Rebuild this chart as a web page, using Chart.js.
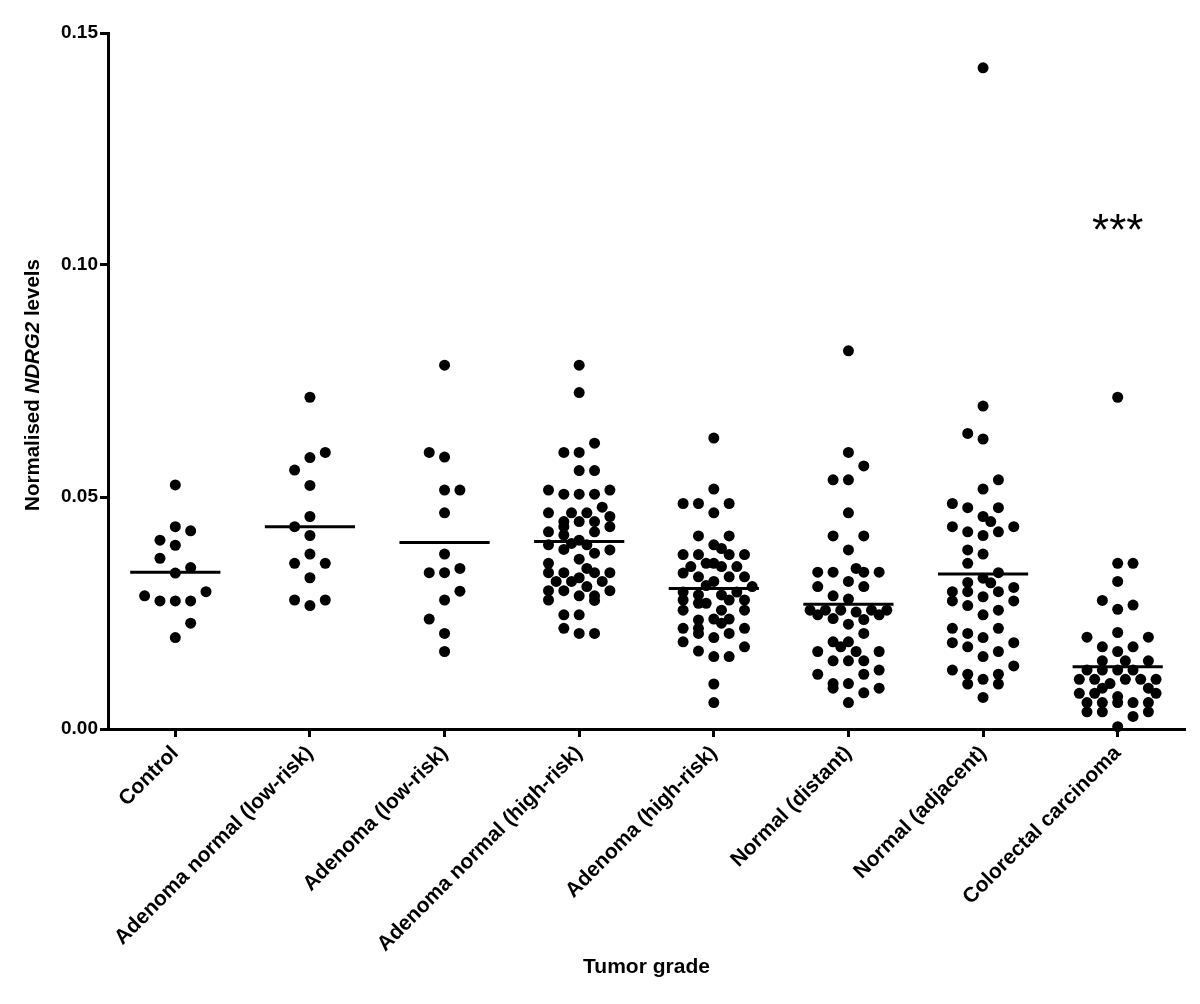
<!DOCTYPE html>
<html>
<head>
<meta charset="utf-8">
<script src="https://cdn.jsdelivr.net/npm/chart.js@4.4.0/dist/chart.umd.min.js"></script>
<style>
  html, body { margin: 0; padding: 0; background: #fff; }
  #chart { display: block; }
</style>
</head>
<body>
<canvas id="chart" width="1200" height="1004"></canvas>
<script>
// groups along the x axis
var categories = ['Control', 'Adenoma normal (low-risk)', 'Adenoma (low-risk)', 'Adenoma normal (high-risk)',
    'Adenoma (high-risk)', 'Normal (distant)', 'Normal (adjacent)', 'Colorectal carcinoma'];
var yTicks = [0, 0.05, 0.10, 0.15];
var medians = [0.0338, 0.0436, 0.0402, 0.0404, 0.0303, 0.0269, 0.0334, 0.0134];
var starLabel = '***';
var starValue = 0.109;   // sits above colorectal carcinoma

// each point: [value, column in the scatter spread]
var control = [[0.0526,0],[0.0436,0],[0.0427,1],[0.0407,-1],[0.0396,0],[0.0368,-1],[0.0348,1],[0.0336,0],
    [0.0296,2],[0.0287,-2],[0.0276,-1],[0.0276,0],[0.0276,1],[0.0228,1],[0.0197,0]];
var adNormLow = [[0.0715,0],[0.0596,1],[0.0585,0],[0.0558,-1],[0.0525,0],[0.0458,0],[0.0436,-1],[0.0417,0],
    [0.0377,0],[0.0357,-1],[0.0357,1],[0.0326,0],[0.0278,-1],[0.0278,1],[0.0266,0]];
var adLow = [[0.0784,0],[0.0596,-1],[0.0586,0],[0.0515,0],[0.0515,1],[0.0466,0],[0.0377,0],[0.0337,-1],
    [0.0337,0],[0.0346,1],[0.0297,1],[0.0278,0],[0.0237,-1],[0.0206,0],[0.0167,0]];
var adNormHigh = [[0.0784,0],[0.0725,0],[0.0616,1],[0.0596,-1],[0.0596,0],[0.0557,0],[0.0557,1],
    [0.0515,-2],[0.0506,-1],[0.0506,0],[0.0506,1],[0.0515,2],
    [0.0466,-2],[0.0466,-0.5],[0.0466,0.5],[0.0478,1.5],[0.0458,2],
    [0.0447,-1],[0.0447,0],[0.0447,1],[0.0436,-1],[0.0436,2],[0.0425,-2],[0.0425,1],
    [0.0418,-1],[0.0407,0],[0.0397,-2],[0.0387,-1],[0.0400,-0.5],[0.0397,0.5],
    [0.0379,1],[0.0386,2],[0.0366,0],[0.0357,-2],[0.0346,0.5],
    [0.0337,-2],[0.0337,-1],[0.0337,1],[0.0337,2],
    [0.0326,0],[0.0318,-1.5],[0.0318,-0.5],[0.0318,1.5],[0.0307,0.5],
    [0.0298,-2],[0.0298,-1],[0.0298,2],[0.0287,0],[0.0287,1],[0.0278,-2],[0.0277,1],
    [0.0246,-1],[0.0246,0],[0.0217,-1],[0.0206,0],[0.0206,1]];
var adHigh = [[0.0627,0],[0.0517,0],[0.0486,-2],[0.0486,-1],[0.0486,1],[0.0466,0],
    [0.0416,-1],[0.0416,1],[0.0397,0],[0.0389,0.5],
    [0.0376,-2],[0.0376,-1],[0.0376,1],[0.0376,2],
    [0.0350,-1.5],[0.0357,-0.5],[0.0357,0],[0.0350,0.5],[0.0350,1.5],
    [0.0336,-2],[0.0328,-1],[0.0328,1],[0.0328,2],
    [0.0318,0],[0.0309,-0.5],[0.0307,2.5],
    [0.0295,-2],[0.0295,1.5],[0.0289,-1],[0.0289,0.5],
    [0.0278,-2],[0.0271,-0.5],[0.0278,1],[0.0278,2],[0.0271,-1],
    [0.0256,-2],[0.0256,0.5],[0.0256,2],
    [0.0235,-1],[0.0237,0],[0.0237,1],[0.0228,0.5],
    [0.0217,-2],[0.0217,-1],[0.0217,2],[0.0206,-1],[0.0206,1],[0.0197,0],
    [0.0188,-2],[0.0177,2],[0.0168,-1],[0.0156,0],[0.0156,1],[0.0097,0],[0.0057,0]];
var normDistant = [[0.0815,0],[0.0596,0],[0.0567,1],[0.0537,-1],[0.0537,0],[0.0466,0],[0.0416,-1],[0.0416,1],[0.0386,0],
    [0.0338,-2],[0.0338,-1],[0.0346,0.5],[0.0338,1],[0.0338,2],
    [0.0318,0],[0.0307,-2],[0.0307,1],[0.0287,-1],[0.0280,0],
    [0.0256,-2.5],[0.0256,-1.5],[0.0256,-0.5],[0.0252,0.5],[0.0256,1.5],[0.0256,2.5],
    [0.0246,-2],[0.0246,2],[0.0238,-1],[0.0236,1],[0.0226,0],
    [0.0206,1],[0.0188,-1],[0.0188,0],[0.0177,-0.5],
    [0.0167,-2],[0.0167,0.5],[0.0167,2],[0.0147,-1],[0.0147,0],[0.0147,1],
    [0.0118,-2],[0.0118,1],[0.0127,2],
    [0.0098,-1],[0.0088,-1],[0.0098,0],[0.0078,1],[0.0088,2],[0.0057,0]];
var normAdjacent = [[0.1425,0],[0.0696,0],[0.0637,-1],[0.0625,0],[0.0537,1],[0.0517,0],
    [0.0486,-2],[0.0477,-1],[0.0477,1],[0.0458,0],[0.0447,0.5],
    [0.0436,-2],[0.0436,2],[0.0425,-1],[0.0425,1],[0.0417,0],
    [0.0386,-1],[0.0377,0],[0.0357,-1],[0.0337,1],
    [0.0325,0],[0.0315,0.5],[0.0316,-1],[0.0305,2],
    [0.0296,-2],[0.0296,-1],[0.0296,1],[0.0285,0],
    [0.0276,-2],[0.0276,2],[0.0266,-1],[0.0256,1],[0.0246,0],
    [0.0217,-2],[0.0217,1],[0.0206,-1],[0.0197,0],[0.0186,-2],[0.0186,2],[0.0177,-1],[0.0167,1],[0.0156,0],
    [0.0127,-2],[0.0136,2],[0.0118,-1],[0.0118,1],[0.0097,-1],[0.0107,0],[0.0097,1],[0.0068,0]];
var carcinoma = [[0.0715,0],[0.0357,0],[0.0357,1],[0.0318,0],[0.0277,-1],[0.0258,0],[0.0267,1],
    [0.0208,0],[0.0198,-2],[0.0198,2],[0.0177,-1],[0.0177,1],[0.0167,0],
    [0.0147,-1],[0.0147,0.5],[0.0147,2],
    [0.0127,-2],[0.0127,-1],[0.0127,0],[0.0127,1],
    [0.0107,-2.5],[0.0107,-1.5],[0.0107,0.5],[0.0107,1.5],[0.0107,2.5],
    [0.0098,-0.5],[0.0088,-1],[0.0088,2],
    [0.0077,-2.5],[0.0077,-1.5],[0.0077,2.5],[0.0070,0],
    [0.0057,-2],[0.0057,-1],[0.0057,0],[0.0057,1],[0.0057,2],
    [0.0037,-2],[0.0037,-1],[0.0037,2],[0.0027,1],[0.0005,0]];

var groups = [control, adNormLow, adLow, adNormHigh, adHigh, normDistant, normAdjacent, carcinoma];

var colStep = 0.114;      // spread between columns, in category units
var medianHalf = 0.335;   // half length of the median bar
var fontFam = '"Liberation Sans", Arial, sans-serif';

var points = [];
groups.forEach(function(g, i){
    g.forEach(function(p){
        points.push({x: i + p[1] * colStep, y: p[0]});
    });
});

var medianLine = [];
medians.forEach(function(m, i){
    medianLine.push({x: i - medianHalf, y: m});
    medianLine.push({x: i + medianHalf, y: m});
    medianLine.push({x: i + 0.5, y: null});
});

// y title with italic gene name, plus the significance stars
var extraText = {
    id: 'extraText',
    afterDraw: function(chart){
        var ctx = chart.ctx;
        var area = chart.chartArea;
        var parts = [['Normalised ', 'bold'], ['NDRG2', 'italic bold'], [' levels', 'bold']];
        ctx.save();
        ctx.fillStyle = '#000';
        ctx.textBaseline = 'middle';
        ctx.textAlign = 'left';
        var total = 0;
        parts.forEach(function(p){
            ctx.font = p[1] + ' 20.5px ' + fontFam;
            total += ctx.measureText(p[0]).width;
        });
        ctx.translate(33, (area.top + area.bottom) / 2 + 4);
        ctx.rotate(-Math.PI / 2);
        var x = -total / 2;
        parts.forEach(function(p){
            ctx.font = p[1] + ' 20.5px ' + fontFam;
            ctx.fillText(p[0], x, 0);
            x += ctx.measureText(p[0]).width;
        });
        ctx.restore();

        ctx.save();
        ctx.fillStyle = '#000';
        ctx.font = '44px ' + fontFam;
        ctx.textAlign = 'center';
        ctx.textBaseline = 'middle';
        ctx.fillText(starLabel, chart.scales.x.getPixelForValue(categories.length - 1),
            chart.scales.y.getPixelForValue(starValue) + 10);
        ctx.restore();
    }
};

var chart = new Chart(document.getElementById('chart'), {
    type: 'scatter',
    data: {
        datasets: [
            {
                data: points,
                backgroundColor: '#000',
                borderWidth: 0,
                pointRadius: 5.5,
                pointHoverRadius: 5.5,
                clip: false
            },
            {
                data: medianLine,
                showLine: true,
                spanGaps: false,
                borderColor: '#000',
                borderWidth: 3,
                pointRadius: 0,
                clip: false
            }
        ]
    },
    options: {
        responsive: false,
        animation: false,
        devicePixelRatio: 1,
        layout: { padding: { top: 33, right: 15, left: 0, bottom: 0 } },
        plugins: { legend: { display: false }, tooltip: { enabled: false } },
        scales: {
            x: {
                type: 'linear',
                min: -0.5,
                max: categories.length - 0.5,
                afterBuildTicks: function(s){ s.ticks = categories.map(function(c, i){ return {value: i}; }); },
                afterFit: function(s){ s.height = 275; },
                grid: { drawOnChartArea: false, tickLength: 8, tickWidth: 3, tickColor: '#000' },
                border: { display: true, width: 3, color: '#000' },
                ticks: {
                    autoSkip: false,
                    minRotation: 45,
                    maxRotation: 45,
                    padding: 4,
                    color: '#000',
                    font: { family: fontFam, size: 21, weight: 'bold' },
                    callback: function(v){ return categories[v]; }
                },
                title: {
                    display: true,
                    text: 'Tumor grade',
                    color: '#000',
                    font: { family: fontFam, size: 21, weight: 'bold' },
                    padding: { top: 0, bottom: 24 }
                }
            },
            y: {
                min: 0,
                max: 0.15,
                afterBuildTicks: function(s){ s.ticks = yTicks.map(function(v){ return {value: v}; }); },
                afterFit: function(s){ s.width = 108; },
                grid: { drawOnChartArea: false, tickLength: 8, tickWidth: 3, tickColor: '#000' },
                border: { display: true, width: 3, color: '#000' },
                ticks: {
                    padding: 2,
                    color: '#000',
                    font: { family: fontFam, size: 19, weight: 'bold' },
                    callback: function(v){ return v.toFixed(2); }
                }
            }
        }
    },
    plugins: [extraText]
});
</script>
</body>
</html>
